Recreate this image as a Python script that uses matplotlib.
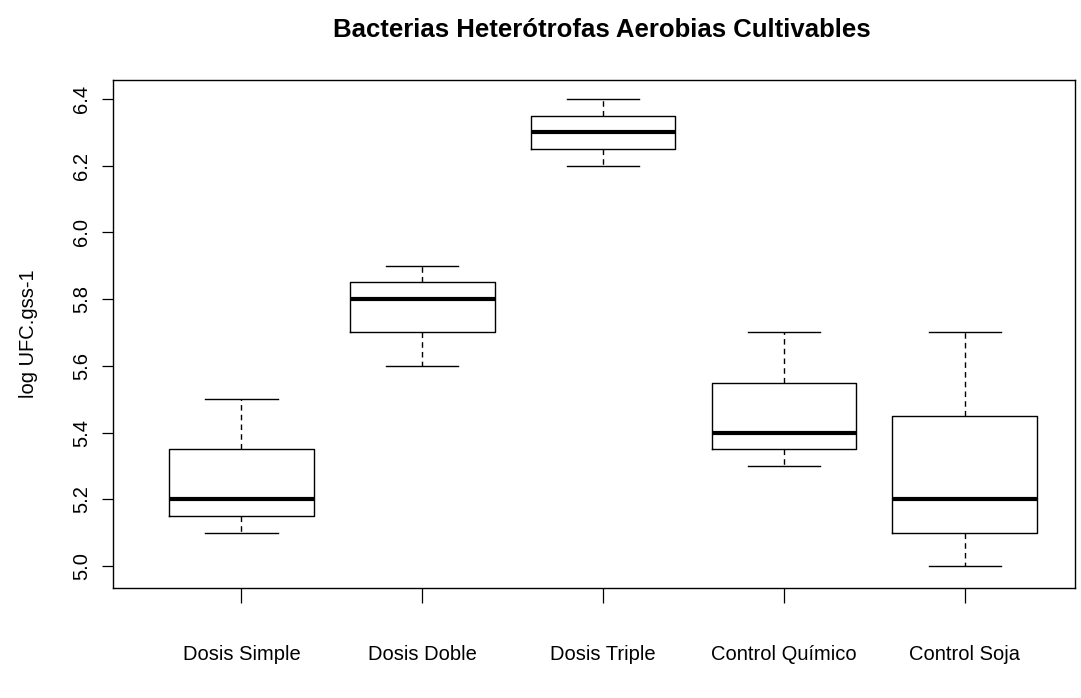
import matplotlib
matplotlib.use('Agg')
import matplotlib.pyplot as plt

plt.rcParams['font.family'] = ['Liberation Sans', 'DejaVu Sans']

groups = ['Dosis Simple', 'Dosis Doble', 'Dosis Triple', 'Control Químico', 'Control Soja']
whislo = [5.1, 5.6, 6.2, 5.3, 5.0]
q1 = [5.15, 5.7, 6.25, 5.35, 5.1]
med = [5.2, 5.8, 6.3, 5.4, 5.2]
q3 = [5.35, 5.85, 6.35, 5.55, 5.45]
whishi = [5.5, 5.9, 6.4, 5.7, 5.7]

stats = []
for i, g in enumerate(groups):
    stats.append({'label': g, 'whislo': whislo[i], 'q1': q1[i], 'med': med[i],
                  'q3': q3[i], 'whishi': whishi[i], 'fliers': []})

fig = plt.figure(figsize=(10.81, 6.98), dpi=100)
ax = fig.add_axes([113/1081, 1 - 588/698, (1075-113)/1081, (588-80)/698])

ax.bxp(stats, positions=range(1, 6), widths=0.8, showfliers=False,
       boxprops=dict(color='black', linewidth=1.0),
       whiskerprops=dict(color='black', linewidth=1.0, linestyle=(0, (4, 3))),
       capprops=dict(color='black', linewidth=1.0),
       medianprops=dict(color='black', linewidth=3.0),
       capwidths=0.4)

ax.set_xlim(0.29, 5.61)
ax.set_ylim(4.934, 6.457)
ax.set_yticks([5.0, 5.2, 5.4, 5.6, 5.8, 6.0, 6.2, 6.4])
ax.set_yticklabels(['5.0', '5.2', '5.4', '5.6', '5.8', '6.0', '6.2', '6.4'],
                   rotation=90, va='center', fontsize=14.5)
ax.tick_params(axis='y', length=8, width=0.9, pad=8)
ax.tick_params(axis='x', length=11, width=0.9, pad=30, labelsize=14.5)
ax.set_xticks(range(1, 6))
ax.set_xticklabels(groups)
for s in ax.spines.values():
    s.set_linewidth(1.0)

ax.set_ylabel('log UFC.gss-1', fontsize=14.5, labelpad=24)
fig.text(602/1081, 1 - 30/698, 'Bacterias Heterótrofas Aerobias Cultivables',
         ha='center', va='center', fontsize=18.5, fontweight='bold')

fig.savefig('out.png', dpi=100)
